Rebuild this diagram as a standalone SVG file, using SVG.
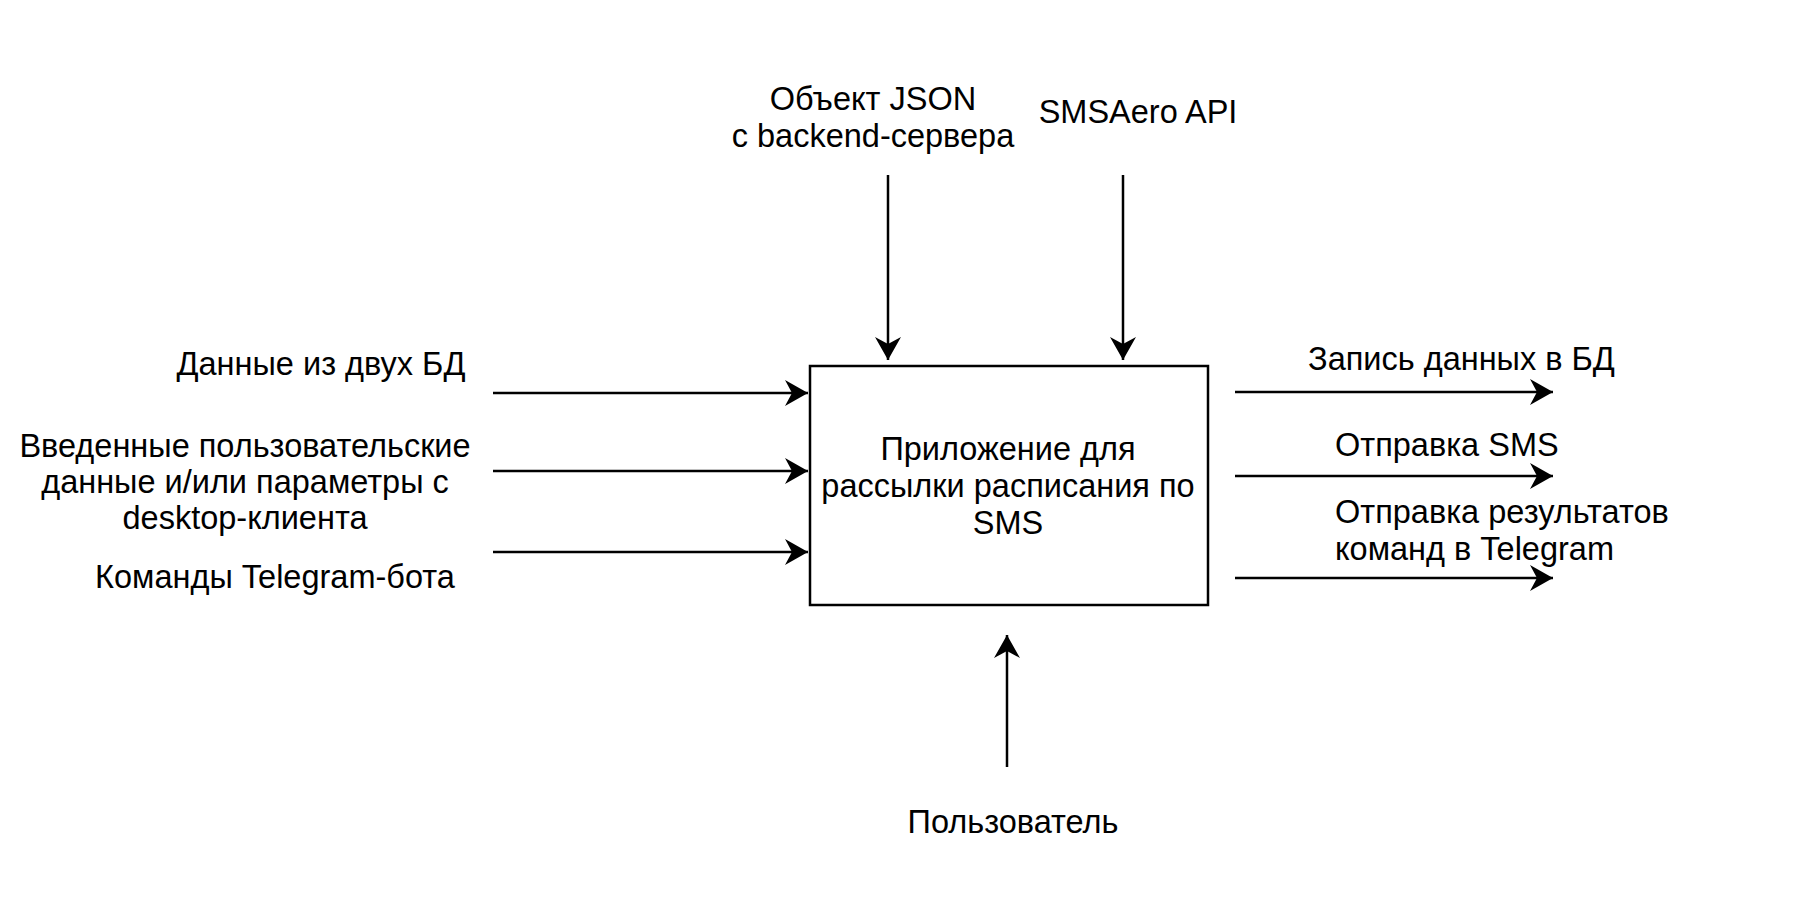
<svg xmlns="http://www.w3.org/2000/svg" width="1806" height="912" viewBox="0 0 1806 912">
<defs>
<style>
text{font-family:"Liberation Sans",Arial,sans-serif;font-size:32.5px;fill:#000}
.m{text-anchor:middle}
.s{text-anchor:start}
.c{stroke:#000;stroke-width:2.5;fill:none}
</style>
<marker id="ah" viewBox="0 0 24 26" refX="23" refY="13" markerUnits="userSpaceOnUse" markerWidth="24" markerHeight="26" orient="auto">
<path d="M23,13 L0,0 L7,13 L0,26 Z" fill="#000"/>
</marker>
</defs>
<rect width="1806" height="912" fill="#fff"/>
<g id="connectors">
<line class="c" x1="493" y1="393" x2="808" y2="393" marker-end="url(#ah)"/>
<line class="c" x1="493" y1="471" x2="808" y2="471" marker-end="url(#ah)"/>
<line class="c" x1="493" y1="552" x2="808" y2="552" marker-end="url(#ah)"/>
<line class="c" x1="888" y1="175" x2="888" y2="360" marker-end="url(#ah)"/>
<line class="c" x1="1123" y1="175" x2="1123" y2="360" marker-end="url(#ah)"/>
<line class="c" x1="1007" y1="767" x2="1007" y2="635" marker-end="url(#ah)"/>
<line class="c" x1="1235" y1="392" x2="1553" y2="392" marker-end="url(#ah)"/>
<line class="c" x1="1235" y1="476" x2="1553" y2="476" marker-end="url(#ah)"/>
<line class="c" x1="1235" y1="578" x2="1553" y2="578" marker-end="url(#ah)"/>
</g>
<g id="main">
<rect x="810" y="366" width="398" height="239" fill="#fff" stroke="#000" stroke-width="2.5"/>
<text class="m" x="1008" y="460">Приложение для</text>
<text class="m" x="1008" y="497">рассылки расписания по</text>
<text class="m" x="1008" y="534">SMS</text>
</g>
<g id="in1"><text class="m" x="321" y="375">Данные из двух БД</text></g>
<g id="in2">
<text class="m" x="245" y="457">Введенные пользовательские</text>
<text class="m" x="245" y="493">данные и/или параметры с</text>
<text class="m" x="245" y="529">desktop-клиента</text>
</g>
<g id="in3"><text class="m" x="275" y="588">Команды Telegram-бота</text></g>
<g id="ctl1">
<text class="m" x="873" y="110">Объект JSON</text>
<text class="m" x="873" y="147">с backend-сервера</text>
</g>
<g id="ctl2"><text class="m" x="1138" y="123">SMSAero API</text></g>
<g id="mech"><text class="m" x="1013" y="833">Пользователь</text></g>
<g id="out1"><text class="s" x="1308" y="370">Запись данных в БД</text></g>
<g id="out2"><text class="s" x="1335" y="456">Отправка SMS</text></g>
<g id="out3">
<text class="s" x="1335" y="523">Отправка результатов</text>
<text class="s" x="1335" y="560">команд в Telegram</text>
</g>
</svg>
